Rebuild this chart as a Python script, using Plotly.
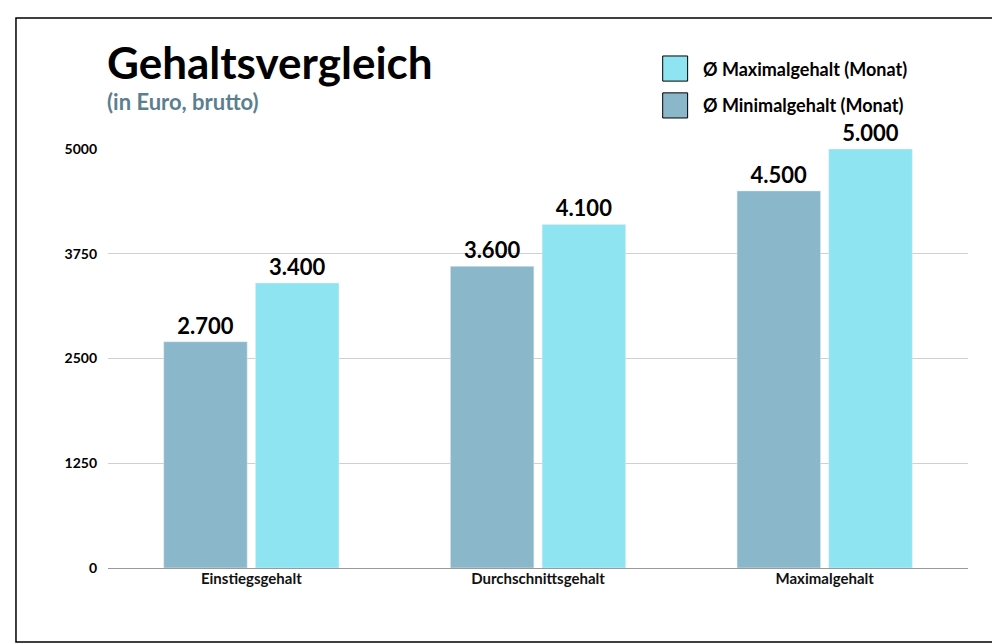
import plotly.graph_objects as go

categories = ["Einstiegsgehalt", "Durchschnittsgehalt", "Maximalgehalt"]
min_gehalt = [2700, 3600, 4500]
max_gehalt = [3400, 4100, 5000]
y_ticks = [0, 1250, 2500, 3750, 5000]

FONT = "Lato"
MIN_COLOR = "#8ab8ca"
MAX_COLOR = "#8ee4f0"


def de_fmt(v):
    return f"{v:,}".replace(",", ".")


fig = go.Figure()
fig.add_trace(go.Bar(
    x=categories, y=min_gehalt, name="Ø Minimalgehalt (Monat)",
    marker=dict(color=MIN_COLOR),
    text=[f"<b>{de_fmt(v)}</b>" for v in min_gehalt], textposition="outside",
    textfont=dict(size=22, color="black", family=FONT),
    cliponaxis=False,
))
fig.add_trace(go.Bar(
    x=categories, y=max_gehalt, name="Ø Maximalgehalt (Monat)",
    marker=dict(color=MAX_COLOR),
    text=[f"<b>{de_fmt(v)}</b>" for v in max_gehalt], textposition="outside",
    textfont=dict(size=22, color="black", family=FONT),
    cliponaxis=False,
))

fig.update_layout(
    width=1000, height=644,
    margin=dict(l=100, r=40, t=141, b=84, autoexpand=False),
    plot_bgcolor="white", paper_bgcolor="white",
    barmode="group", bargap=0.36, bargroupgap=0.09,
    font=dict(family=FONT, color="black"),
    showlegend=False,
    xaxis=dict(
        tickfont=dict(size=15, family=FONT, color="#111", weight="bold"),
        showline=False, ticks="",
    ),
    yaxis=dict(
        range=[0, 5000], tickvals=y_ticks, tickformat="d",
        tickfont=dict(size=14, family=FONT, color="black", weight="bold"),
        gridcolor="#d0d0d0", gridwidth=1,
        zeroline=True, zerolinecolor="#999", zerolinewidth=1,
        ticklabelstandoff=10,
    ),
)

fig.add_annotation(text="<b>Gehaltsvergleich</b>", xref="paper", yref="paper",
                   x=-0.003, y=1.275, xanchor="left", yanchor="top", showarrow=False,
                   font=dict(size=44, family=FONT, color="black"))
fig.add_annotation(text="<b>(in Euro, brutto)</b>", xref="paper", yref="paper",
                   x=-0.003, y=1.15, xanchor="left", yanchor="top", showarrow=False,
                   font=dict(size=22, family=FONT, color="#5b7f8f"))

# manual legend
legend_items = [("Ø Maximalgehalt (Monat)", MAX_COLOR, 1.222, 1.162),
                ("Ø Minimalgehalt (Monat)", MIN_COLOR, 1.134, 1.074)]
for label, color, y1, y0 in legend_items:
    fig.add_shape(type="rect", xref="paper", yref="paper",
                  x0=0.645, x1=0.674, y0=y0, y1=y1,
                  fillcolor=color, line=dict(color="black", width=1))
    fig.add_annotation(text=f"<b>{label}</b>", xref="paper", yref="paper",
                       x=0.6895, y=(y0 + y1) / 2, xanchor="left", yanchor="middle",
                       showarrow=False, font=dict(size=18, family=FONT, color="black"))

# outer border
fig.add_shape(type="rect", xref="paper", yref="paper",
              x0=-0.107, x1=1.0395, y0=-0.1766, y1=1.3126,
              line=dict(color="black", width=1.5))

fig.write_html("out.html")
